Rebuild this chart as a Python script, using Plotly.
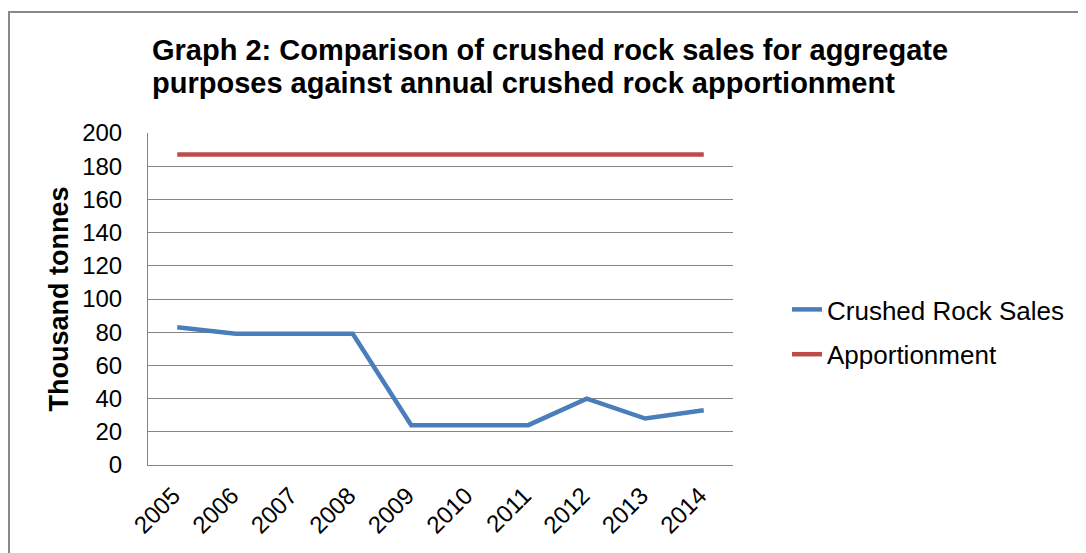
import plotly.graph_objects as go

years = ["2005", "2006", "2007", "2008", "2009", "2010", "2011", "2012", "2013", "2014"]
crushed_rock_sales = [83, 79, 79, 79, 24, 24, 24, 40, 28, 33]
apportionment = [187, 187, 187, 187, 187, 187, 187, 187, 187, 187]
y_ticks = [0, 20, 40, 60, 80, 100, 120, 140, 160, 180, 200]

title_lines = [
    "Graph 2: Comparison of crushed rock sales for aggregate",
    "purposes against annual crushed rock apportionment",
]

FONT = "Arial, 'Liberation Sans', sans-serif"
GRID = "#868686"

# page has an 8px body margin; lay out in reference page pixels minus it
OFF = 8
W, H = 1086 - OFF, 553 - OFF
L, R, T, B = 148 - OFF, 733 - OFF, 133 - OFF, 465 - OFF
pw, ph = R - L, B - T


def px_x(x):
    return (x - OFF - L) / pw


def px_y(y):
    return (B - (y - OFF)) / ph


fig = go.Figure()
fig.add_trace(go.Scatter(
    x=years, y=crushed_rock_sales, mode="lines", name="Crushed Rock Sales",
    line=dict(color="#4A7EBB", width=4.5), legendgroup="a",
))
fig.add_trace(go.Scatter(
    x=years, y=apportionment, mode="lines", name="Apportionment",
    line=dict(color="#BE4B48", width=4.5), legendgroup="b",
))

fig.update_layout(
    width=W, height=H,
    margin=dict(l=L, r=W - R, t=T, b=H - B, autoexpand=False),
    paper_bgcolor="white", plot_bgcolor="white",
    font=dict(family=FONT, size=24, color="#000000"),
    showlegend=True,
    legend=dict(
        x=px_x(787), y=px_y(332), xanchor="left", yanchor="middle",
        font=dict(size=26), tracegroupgap=8, traceorder="grouped",
        itemwidth=30, bgcolor="rgba(0,0,0,0)",
    ),
    xaxis=dict(
        type="category", range=[-0.5, 9.5], tickangle=-45,
        showgrid=False, showline=True, linecolor=GRID, linewidth=1,
        ticks="", tickfont=dict(size=24), ticklabelshift=-4,
        ticklabelstandoff=6, fixedrange=True,
    ),
    yaxis=dict(
        range=[0, 200], tickvals=y_ticks, showgrid=True, gridcolor=GRID,
        gridwidth=1, showline=True, linecolor=GRID, linewidth=1,
        ticks="", tickfont=dict(size=24), ticklabelstandoff=20,
        zeroline=False, fixedrange=True,
        title=dict(text="<b>Thousand tonnes</b>", font=dict(size=27), standoff=5),
    ),
)

for line_text, ycen in zip(title_lines, [50, 83]):
    fig.add_annotation(
        text="<b>" + line_text + "</b>",
        xref="paper", yref="paper", x=px_x(150), y=px_y(ycen),
        xanchor="left", yanchor="middle", align="left", showarrow=False,
        font=dict(size=29, family=FONT, color="#000000"),
    )

fig.add_shape(
    type="rect", xref="paper", yref="paper",
    x0=px_x(9), y0=px_y(620), x1=px_x(1120), y1=px_y(12),
    line=dict(color="#888888", width=2), fillcolor="rgba(0,0,0,0)", layer="below",
)

fig.write_html("out.html")
